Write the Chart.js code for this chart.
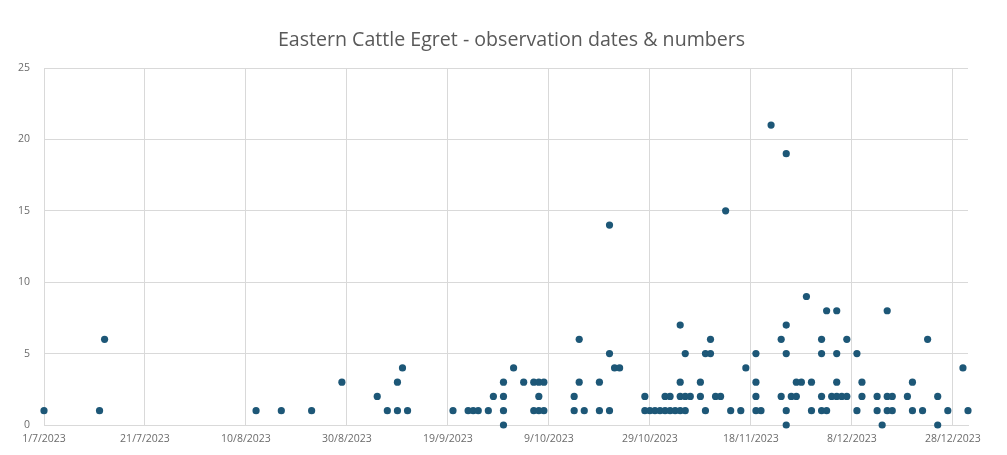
<!DOCTYPE html>
<html>
<head>
<meta charset="utf-8">
<script src="https://cdn.jsdelivr.net/npm/chart.js@4.4.1/dist/chart.umd.min.js"></script>
<style>
  html, body { margin: 0; padding: 0; background: #fff; }
  #wrap { width: 1007px; height: 455px; }
</style>
</head>
<body>
<div id="wrap"><canvas id="egretChart"></canvas></div>
<script>
// Observation dates and bird counts
const obsDates = [
  '2023-07-01','2023-07-12','2023-07-13','2023-08-12','2023-08-17','2023-08-23','2023-08-29',
  '2023-09-05','2023-09-07','2023-09-09','2023-09-09','2023-09-10','2023-09-11','2023-09-20',
  '2023-09-23','2023-09-24','2023-09-25','2023-09-27','2023-09-28','2023-09-30','2023-09-30',
  '2023-09-30','2023-09-30','2023-10-02','2023-10-04','2023-10-06','2023-10-06','2023-10-07',
  '2023-10-07','2023-10-07','2023-10-08','2023-10-08','2023-10-14','2023-10-14','2023-10-15',
  '2023-10-15','2023-10-16','2023-10-19','2023-10-19','2023-10-21','2023-10-21','2023-10-21',
  '2023-10-22','2023-10-23','2023-10-28','2023-10-28','2023-10-29','2023-10-30','2023-10-31',
  '2023-11-01','2023-11-01','2023-11-02','2023-11-02','2023-11-03','2023-11-04','2023-11-04',
  '2023-11-04','2023-11-04','2023-11-05','2023-11-05','2023-11-05','2023-11-06','2023-11-08',
  '2023-11-08','2023-11-09','2023-11-09','2023-11-10','2023-11-10','2023-11-11','2023-11-12',
  '2023-11-13','2023-11-14','2023-11-16','2023-11-17','2023-11-19','2023-11-19','2023-11-19',
  '2023-11-19','2023-11-20','2023-11-22','2023-11-24','2023-11-24','2023-11-25','2023-11-25',
  '2023-11-25','2023-11-25','2023-11-25','2023-11-26','2023-11-27','2023-11-27','2023-11-28',
  '2023-11-29','2023-11-30','2023-11-30','2023-12-02','2023-12-02','2023-12-02','2023-12-02',
  '2023-12-03','2023-12-03','2023-12-04','2023-12-05','2023-12-05','2023-12-05','2023-12-05',
  '2023-12-06','2023-12-07','2023-12-07','2023-12-09','2023-12-09','2023-12-10','2023-12-10',
  '2023-12-13','2023-12-13','2023-12-14','2023-12-15','2023-12-15','2023-12-15','2023-12-16',
  '2023-12-16','2023-12-19','2023-12-20','2023-12-20','2023-12-22','2023-12-23','2023-12-25',
  '2023-12-25','2023-12-27','2023-12-30','2023-12-31'
];
const obsCounts = [
  1, 1, 6, 1, 1, 1, 3,
  2, 1, 1, 3, 4, 1, 1,
  1, 1, 1, 1, 2, 0, 1,
  2, 3, 4, 3, 1, 3, 1,
  2, 3, 1, 3, 1, 2, 3,
  6, 1, 1, 3, 1, 5, 14,
  4, 4, 1, 2, 1, 1, 1,
  1, 2, 1, 2, 1, 1, 2,
  3, 7, 1, 2, 5, 2, 2,
  3, 1, 5, 5, 6, 2, 2,
  15, 1, 1, 4, 1, 2, 3,
  5, 1, 21, 2, 6, 0, 1,
  5, 7, 19, 2, 2, 3, 3,
  9, 1, 3, 1, 2, 5, 6,
  1, 8, 2, 2, 3, 5, 8,
  2, 2, 6, 1, 5, 2, 3,
  1, 2, 0, 1, 2, 8, 1,
  2, 2, 1, 3, 1, 6, 0,
  2, 1, 4, 1
];

// x axis: start date, end date and labelled ticks
const axisStart = '2023-07-01';
const axisEnd = '2023-12-31';
const xTickDates = ['2023-07-01','2023-07-21','2023-08-10','2023-08-30','2023-09-19',
                    '2023-10-09','2023-10-29','2023-11-18','2023-12-08','2023-12-28'];
const xTickLabels = ['1/7/2023','21/7/2023','10/8/2023','30/8/2023','19/9/2023',
                     '9/10/2023','29/10/2023','18/11/2023','8/12/2023','28/12/2023'];
const yTicks = [0, 5, 10, 15, 20, 25];
const chartTitle = 'Eastern Cattle Egret - observation dates & numbers';

// days since axis start (no date adapter available, so use a linear axis)
function dayNo(iso) {
    const [y, m, d] = iso.split('-').map(Number);
    const [y0, m0, d0] = axisStart.split('-').map(Number);
    return Math.round((Date.UTC(y, m - 1, d) - Date.UTC(y0, m0 - 1, d0)) / 864e5);
}

const points = obsDates.map((dt, i) => ({ x: dayNo(dt), y: obsCounts[i] }));
const xTickDays = xTickDates.map(dayNo);

const gridCol = '#d9d9d9';
const textCol = '#6b6b6b';
const fontFam = "'Open Sans', 'Noto Sans', sans-serif";

// title is centred on the whole page, like the sheet chart
const titlePlugin = {
    id: 'pageTitle',
    afterDraw(chart) {
        const ctx = chart.ctx;
        ctx.save();
        ctx.fillStyle = '#595959';
        ctx.font = `19.6px ${fontFam}`;
        ctx.textAlign = 'center';
        ctx.textBaseline = 'middle';
        ctx.fillText(chartTitle, chart.width / 2 + 8, 40);
        ctx.restore();
    }
};

new Chart(document.getElementById('egretChart'), {
    type: 'scatter',
    data: {
        datasets: [{
            label: 'Eastern Cattle Egret',
            data: points,
            backgroundColor: '#1d5777',
            borderColor: '#1d5777',
            borderWidth: 0,
            pointRadius: 3.6,
            pointHoverRadius: 4,
            clip: false
        }]
    },
    options: {
        responsive: true,
        maintainAspectRatio: false,
        animation: false,
        layout: { padding: { left: 0, right: 39, top: 68, bottom: 0 } },
        plugins: {
            legend: { display: false },
            tooltip: { enabled: false },
            title: { display: false }
        },
        scales: {
            x: {
                type: 'linear',
                min: 0,
                max: dayNo(axisEnd),
                afterBuildTicks: s => { s.ticks = xTickDays.map(v => ({ value: v })); },
                afterFit: s => { s.height = 30; },
                grid: { color: gridCol, drawTicks: false },
                border: { color: gridCol },
                ticks: {
                    color: textCol,
                    font: { family: fontFam, size: 10.5 },
                    padding: 8,
                    maxRotation: 0,
                    autoSkip: false,
                    callback: (v) => xTickLabels[xTickDays.indexOf(v)]
                }
            },
            y: {
                min: 0,
                max: 25,
                afterBuildTicks: s => { s.ticks = yTicks.map(v => ({ value: v })); },
                afterFit: s => { s.width = 44; },
                grid: { color: gridCol, drawTicks: false },
                border: { display: false },
                ticks: {
                    color: textCol,
                    font: { family: fontFam, size: 10.5 },
                    padding: 14
                }
            }
        }
    },
    plugins: [titlePlugin]
});
</script>
</body>
</html>
